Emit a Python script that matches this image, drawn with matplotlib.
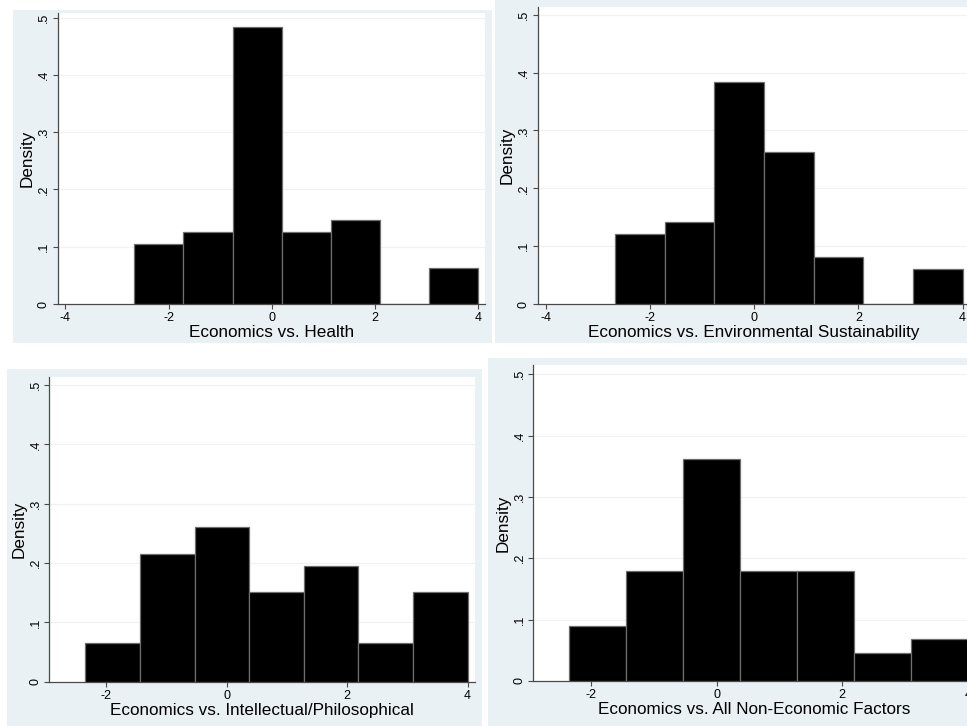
import numpy as np
import matplotlib
matplotlib.use("Agg")
import matplotlib.pyplot as plt
from matplotlib.patches import Rectangle

plt.rcParams['font.family'] = ['Liberation Sans', 'DejaVu Sans']
plt.rcParams['axes.unicode_minus'] = False

# bin edges (two binnings used by the four histograms)
edges_wide = [-2.667, -1.714, -0.762, 0.190, 1.143, 2.095, 3.048, 4.0]
edges_narrow = [-2.343, -1.437, -0.531, 0.376, 1.281, 2.187, 3.094, 4.0]

# densities
health = [0.105, 0.126, 0.483, 0.126, 0.147, 0.0, 0.063]
environment = [0.121, 0.141, 0.384, 0.262, 0.081, 0.0, 0.060]
intellectual = [0.065, 0.216, 0.260, 0.151, 0.195, 0.065, 0.151]
all_factors = [0.090, 0.180, 0.361, 0.180, 0.180, 0.045, 0.068]

titles = ["Economics vs. Health",
          "Economics vs. Environmental Sustainability",
          "Economics vs. Intellectual/Philosophical",
          "Economics vs. All Non-Economic Factors"]

y_ticks = [0, 0.1, 0.2, 0.3, 0.4, 0.5]
y_ticklabels = ["0", ".1", ".2", ".3", ".4", ".5"]
x_ticks_wide = [-4, -2, 0, 2, 4]
x_ticks_narrow = [-2, 0, 2, 4]

W, H = 967, 726
BG = '#eaf1f4'


def box(x0, y0, x1, y1):
    # pixel box (top-left origin) -> figure fraction rect
    return [x0 / W, 1 - y1 / H, (x1 - x0) / W, (y1 - y0) / H]


fig = plt.figure(figsize=(W / 100, H / 100), dpi=100)

# light graph-region backgrounds, drawn under the axes
for x0, y0, x1, y1 in [(13, 10, 492, 343), (495, 0, 967, 343),
                       (7, 369, 482, 726), (488, 358, 967, 726)]:
    r = box(x0, y0, x1, y1)
    fig.add_artist(Rectangle((r[0], r[1]), r[2], r[3], transform=fig.transFigure,
                             facecolor=BG, edgecolor='none', zorder=-5))

panels = [
    (health, edges_wide, x_ticks_wide, (-4.15, 4.13), 0.508, (57.7, 13, 485, 304)),
    (environment, edges_wide, x_ticks_wide, (-4.154, 4.13), 0.514, (537.7, 6.7, 969.3, 304)),
    (intellectual, edges_narrow, x_ticks_narrow, (-2.94, 4.12), 0.514, (49.3, 376.7, 474.9, 681.7)),
    (all_factors, edges_narrow, x_ticks_narrow, (-2.918, 4.12), 0.515, (533.3, 365, 975.5, 681)),
]

for i, (dens, edges, xt, xlim, ytop, pos) in enumerate(panels):
    ax = fig.add_axes(box(*pos))
    ax.set_facecolor('white')
    edges = np.array(edges)
    ax.bar(edges[:-1], dens, width=np.diff(edges), align='edge',
           color='black', edgecolor='#6e6e6e', linewidth=0.9, zorder=3)
    for y in y_ticks[1:]:
        ax.axhline(y, color='#eef2f3', linewidth=0.9, zorder=1)
    ax.set_xlim(*xlim)
    ax.set_ylim(0, ytop)
    ax.set_xticks(xt)
    ax.set_xticklabels([str(t) for t in xt])
    ax.set_yticks(y_ticks)
    ax.set_yticklabels(y_ticklabels, rotation=90, va='center')
    for s in ['top', 'right']:
        ax.spines[s].set_visible(False)
    for s in ['left', 'bottom']:
        ax.spines[s].set_color('#4a4a4a')
        ax.spines[s].set_linewidth(0.9)
    ax.tick_params(length=3.5, width=0.8, color='#4a4a4a', labelsize=9, pad=2.2)
    ax.set_xlabel(titles[i], fontsize=12.3, labelpad=1)
    ax.set_ylabel("Density", fontsize=12.3, labelpad=2)

fig.savefig("out.png", dpi=100)
